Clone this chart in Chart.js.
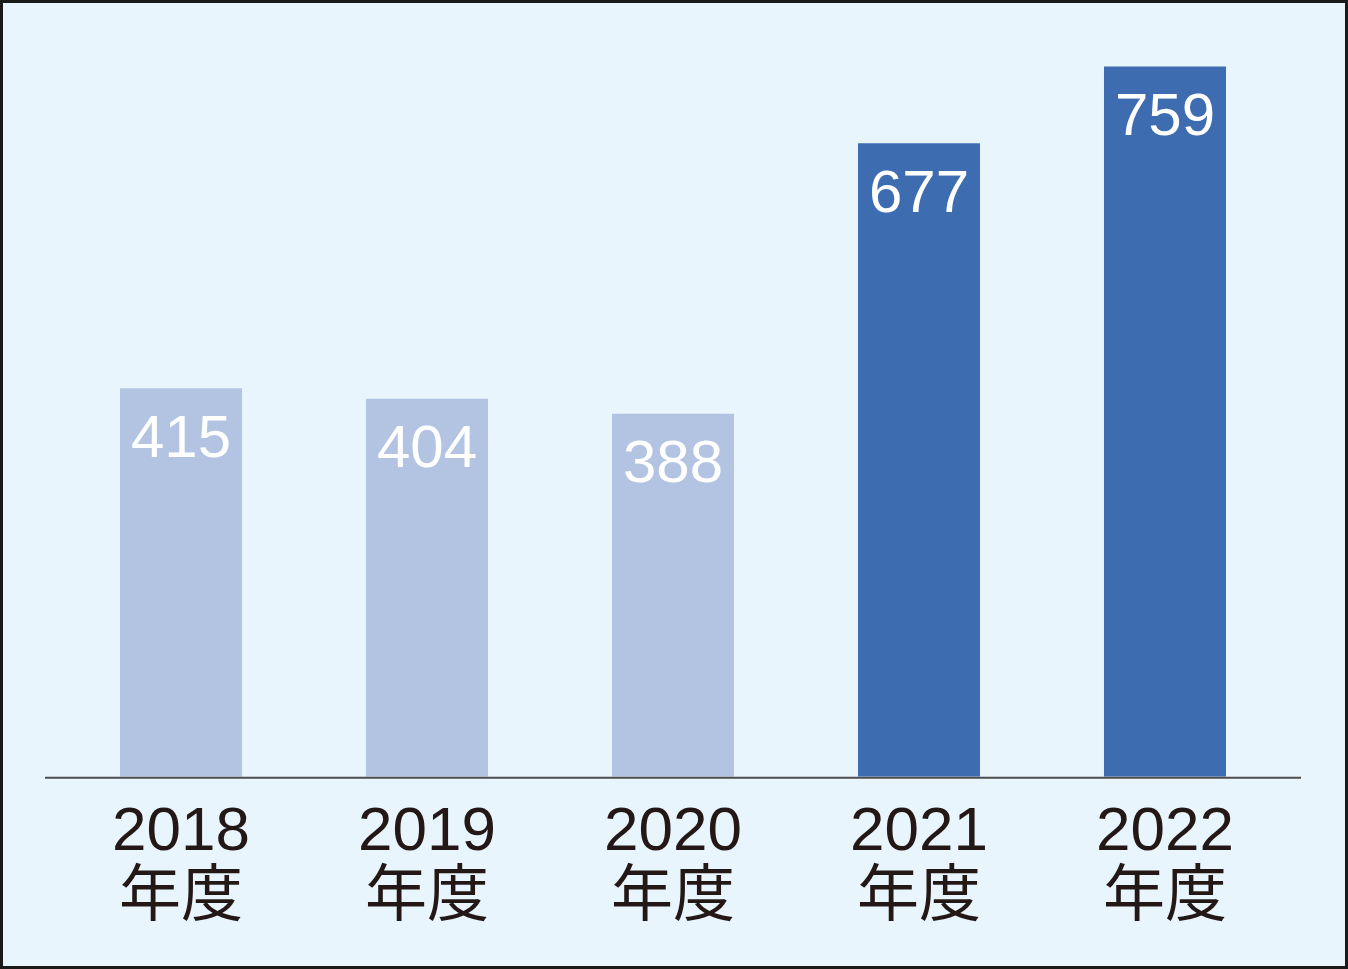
<!DOCTYPE html>
<html>
<head>
<meta charset="utf-8">
<script src="https://cdn.jsdelivr.net/npm/chart.js@4.4.1/dist/chart.umd.min.js"></script>
<style>
  html, body { margin: 0; padding: 0; background: #e9f5fd; }
  #wrap { position: relative; width: 1348px; height: 969px; }
  canvas { display: block; }
</style>
</head>
<body>
<div id="wrap"><canvas id="c" width="1348" height="969"></canvas></div>
<script>
const years = ["2018", "2019", "2020", "2021", "2022"];
const unitLabel = "年度";
const values = [415, 404, 388, 677, 759];
const barColors = ["#b2c4e2", "#b2c4e2", "#b2c4e2", "#3e6cb1", "#3e6cb1"];

const FONT = "'Liberation Sans', 'Noto Sans CJK JP', sans-serif";

const decorPlugin = {
  id: 'decor',
  afterDatasetsDraw(chart) {
    const ctx = chart.ctx;
    const meta = chart.getDatasetMeta(0);
    ctx.save();
    ctx.fillStyle = '#ffffff';
    ctx.font = "60px " + FONT;
    ctx.textAlign = 'center';
    ctx.textBaseline = 'middle';
    meta.data.forEach((bar, i) => {
      ctx.fillText(String(values[i]), bar.x, bar.y + 52);
    });
    const y0 = chart.scales.y.getPixelForValue(0);
    ctx.strokeStyle = '#4d4d4d';
    ctx.lineWidth = 2;
    ctx.beginPath();
    ctx.moveTo(chart.chartArea.left - 13, y0 + 1);
    ctx.lineTo(chart.chartArea.right + 13, y0 + 1);
    ctx.stroke();
    ctx.restore();
  },
  afterDraw(chart) {
    const ctx = chart.ctx;
    ctx.save();
    ctx.strokeStyle = '#1a1a1a';
    ctx.lineWidth = 3;
    ctx.strokeRect(1.5, 1.5, chart.width - 3, chart.height - 3);
    ctx.restore();
  }
};

new Chart(document.getElementById('c'), {
  type: 'bar',
  data: {
    labels: years.map(y => [y, unitLabel]),
    datasets: [{
      data: values,
      backgroundColor: barColors,
      borderWidth: 0,
      barPercentage: 0.496,
      categoryPercentage: 1.0
    }]
  },
  options: {
    responsive: false,
    animation: false,
    devicePixelRatio: 1,
    layout: { padding: { top: 28, left: 58, right: 60, bottom: 14 } },
    plugins: { legend: { display: false }, tooltip: { enabled: false } },
    scales: {
      x: {
        grid: { display: false, drawTicks: false },
        border: { display: false },
        ticks: {
          color: '#231815',
          padding: 24,
          font: { size: 62, family: FONT, lineHeight: 1.05 }
        }
      },
      y: {
        display: false,
        min: 0,
        max: 800
      }
    }
  },
  plugins: [decorPlugin]
});
</script>
</body>
</html>
